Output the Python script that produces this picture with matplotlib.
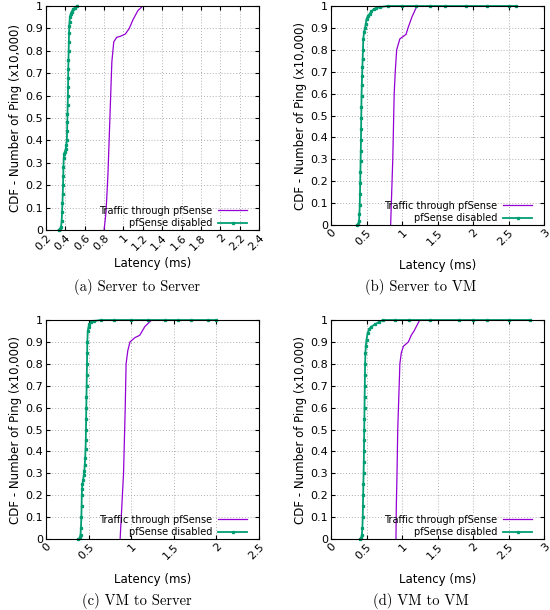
import matplotlib
matplotlib.use("Agg")
import matplotlib.pyplot as plt
import matplotlib.ticker as mticker

PURPLE = "#9400d3"
GREEN = "#009e73"

# latencies (ms) and CDF levels
# (a) Server to Server
a_pf_lat = [0.80, 0.82, 0.84, 0.86, 0.88, 0.90, 0.93, 0.97, 1.02, 1.06, 1.10, 1.15, 1.20, 2.30]
a_pf_cdf = [0.00, 0.08, 0.25, 0.50, 0.75, 0.84, 0.86, 0.865, 0.875, 0.90, 0.94, 0.98, 1.00, 1.00]
a_off_lat = [0.330, 0.345, 0.355, 0.362, 0.366, 0.370, 0.373, 0.376, 0.378, 0.380, 0.383, 0.388,
             0.395, 0.403, 0.410, 0.415, 0.418, 0.420, 0.422, 0.424, 0.426, 0.428, 0.429, 0.430,
             0.432, 0.434, 0.436, 0.438, 0.440, 0.443, 0.447, 0.455, 0.465, 0.480, 0.500, 0.520]
a_off_cdf = [0.000, 0.005, 0.015, 0.04, 0.08, 0.12, 0.16, 0.20, 0.24, 0.28, 0.32, 0.34,
             0.35, 0.36, 0.38, 0.40, 0.44, 0.48, 0.52, 0.56, 0.60, 0.64, 0.68, 0.72,
             0.76, 0.80, 0.84, 0.88, 0.91, 0.93, 0.95, 0.965, 0.975, 0.985, 0.993, 1.000]

# (b) Server to VM
b_pf_lat = [0.84, 0.85, 0.87, 0.88, 0.89, 0.905, 0.925, 0.97, 1.056, 1.085, 1.14, 1.21, 2.70]
b_pf_cdf = [0.00, 0.10, 0.30, 0.45, 0.60, 0.70, 0.80, 0.85, 0.87, 0.90, 0.95, 1.00, 1.00]
b_off_lat = [0.370, 0.385, 0.395, 0.400, 0.405, 0.408, 0.411, 0.414, 0.417, 0.420, 0.422, 0.424,
             0.426, 0.428, 0.430, 0.434, 0.438, 0.442, 0.446, 0.450, 0.455, 0.465, 0.480,
             0.490, 0.500, 0.520, 0.545, 0.570, 0.600, 0.640, 0.690, 0.80, 1.0, 1.2, 1.4,
             1.6, 1.9, 2.2, 2.5, 2.6]
b_off_cdf = [0.000, 0.005, 0.02, 0.05, 0.09, 0.14, 0.19, 0.24, 0.29, 0.34, 0.39, 0.44,
             0.49, 0.54, 0.59, 0.64, 0.68, 0.72, 0.76, 0.80, 0.85, 0.88, 0.90,
             0.92, 0.94, 0.955, 0.965, 0.975, 0.985, 0.99, 0.995, 1.00, 1.00, 1.00, 1.00,
             1.00, 1.00, 1.00, 1.00, 1.00]

# (c) VM to Server
c_pf_lat = [0.87, 0.89, 0.91, 0.92, 0.93, 0.94, 0.96, 0.986, 1.045, 1.10, 1.16, 1.24, 2.40]
c_pf_cdf = [0.00, 0.15, 0.30, 0.45, 0.60, 0.80, 0.86, 0.90, 0.92, 0.93, 0.97, 1.00, 1.00]
c_off_lat = [0.380, 0.395, 0.405, 0.410, 0.415, 0.418, 0.420, 0.423, 0.428, 0.435, 0.443, 0.450,
             0.455, 0.460, 0.464, 0.467, 0.469, 0.471, 0.473, 0.475, 0.477, 0.479, 0.481,
             0.483, 0.485, 0.490, 0.500, 0.510, 0.530, 0.560, 0.640, 0.80, 1.0, 1.2, 1.4,
             1.55, 1.7, 1.9, 2.0]
c_off_cdf = [0.000, 0.005, 0.02, 0.05, 0.10, 0.15, 0.20, 0.23, 0.25, 0.27, 0.29, 0.31,
             0.34, 0.37, 0.41, 0.45, 0.50, 0.55, 0.60, 0.65, 0.70, 0.75, 0.80,
             0.85, 0.90, 0.95, 0.97, 0.98, 0.99, 0.995, 1.00, 1.00, 1.00, 1.00, 1.00,
             1.00, 1.00, 1.00, 1.00]

# (d) VM to VM
d_pf_lat = [0.915, 0.92, 0.93, 0.94, 0.955, 0.97, 0.99, 1.02, 1.09, 1.13, 1.17, 1.25, 2.80]
d_pf_cdf = [0.00, 0.15, 0.30, 0.50, 0.65, 0.80, 0.85, 0.88, 0.90, 0.93, 0.95, 1.00, 1.00]
d_off_lat = [0.410, 0.425, 0.435, 0.442, 0.447, 0.450, 0.453, 0.456, 0.459, 0.462, 0.464, 0.466,
             0.468, 0.470, 0.472, 0.474, 0.476, 0.478, 0.480, 0.485, 0.490, 0.500, 0.515,
             0.540, 0.570, 0.620, 0.670, 0.730, 0.90, 1.1, 1.4, 1.8, 2.0, 2.2, 2.5, 2.8]
d_off_cdf = [0.000, 0.005, 0.02, 0.05, 0.10, 0.15, 0.20, 0.25, 0.30, 0.35, 0.40, 0.45,
             0.50, 0.55, 0.60, 0.65, 0.70, 0.75, 0.80, 0.85, 0.88, 0.91, 0.94,
             0.96, 0.97, 0.98, 0.99, 1.00, 1.00, 1.00, 1.00, 1.00, 1.00, 1.00, 1.00, 1.00]

captions = ["(a) Server to Server", "(b) Server to VM", "(c) VM to Server", "(d) VM to VM"]
xlims = [(0.2, 2.4), (0, 3), (0, 2.5), (0, 3)]
xsteps = [0.2, 0.5, 0.5, 0.5]

panels = [
    (a_pf_lat, a_pf_cdf, a_off_lat, a_off_cdf),
    (b_pf_lat, b_pf_cdf, b_off_lat, b_off_cdf),
    (c_pf_lat, c_pf_cdf, c_off_lat, c_off_cdf),
    (d_pf_lat, d_pf_cdf, d_off_lat, d_off_cdf),
]

W, H = 550, 610
# axes boxes in pixels: left, top, right, bottom
boxes = [(46, 6, 259, 230), (331, 6, 544, 225), (46, 320, 259, 539), (331, 320, 544, 539)]
xlabel_y = [264, 265, 579, 579]
caption_x = [137, 421, 137, 421]
caption_y = [287, 287, 601, 601]

plt.rcParams["font.family"] = "DejaVu Sans"
fig = plt.figure(figsize=(W / 100, H / 100), dpi=100)

for i, (pf_lat, pf_cdf, off_lat, off_cdf) in enumerate(panels):
    l, t, r, b = boxes[i]
    h = b - t
    ax = fig.add_axes([l / W, 1 - b / H, (r - l) / W, h / H])
    ax.plot(pf_lat, pf_cdf, color=PURPLE, lw=0.9, label="Traffic through pfSense")
    ax.plot(off_lat, off_cdf, color=GREEN, lw=1.3, marker="s", ms=1.4,
            label="pfSense disabled", clip_on=False)
    ax.set_xlim(*xlims[i])
    ax.set_ylim(0, 1)
    ax.xaxis.set_major_locator(mticker.MultipleLocator(xsteps[i]))
    ax.yaxis.set_major_locator(mticker.MultipleLocator(0.1))
    ax.xaxis.set_major_formatter(mticker.FuncFormatter(lambda v, p: "%g" % round(v, 2)))
    ax.yaxis.set_major_formatter(mticker.FuncFormatter(lambda v, p: "%g" % round(v, 2)))
    ax.grid(True, color="#b0b0b0", linestyle=(0, (1, 2)), lw=0.7)
    ax.tick_params(direction="in", top=True, right=True, length=3, labelsize=8, pad=2)
    for lab in ax.get_xticklabels():
        lab.set_rotation(45)
        lab.set_ha("right")
        lab.set_rotation_mode("anchor")
    ax.set_ylabel("CDF - Number of Ping (x10,000)", fontsize=8.5)
    ax.yaxis.set_label_coords(-0.115, 0.5)
    ax.set_xlabel("Latency (ms)", fontsize=8.5)
    ax.xaxis.set_label_coords(0.5, -(xlabel_y[i] - b) / h, transform=ax.transAxes)
    ax.xaxis.label.set_va("center")
    leg = ax.legend(loc="lower right", frameon=False, markerfirst=False, fontsize=7,
                    handlelength=3.0, borderaxespad=0.0, borderpad=0.2, labelspacing=0.25,
                    handletextpad=0.6, bbox_to_anchor=(0.955, 0.0))
    for text in leg.get_texts():
        text.set_ha("right")
    fig.text(caption_x[i] / W, 1 - caption_y[i] / H, captions[i], ha="center", va="center",
             fontsize=10.5, family="cmr10")

fig.savefig("out.png", dpi=100)
